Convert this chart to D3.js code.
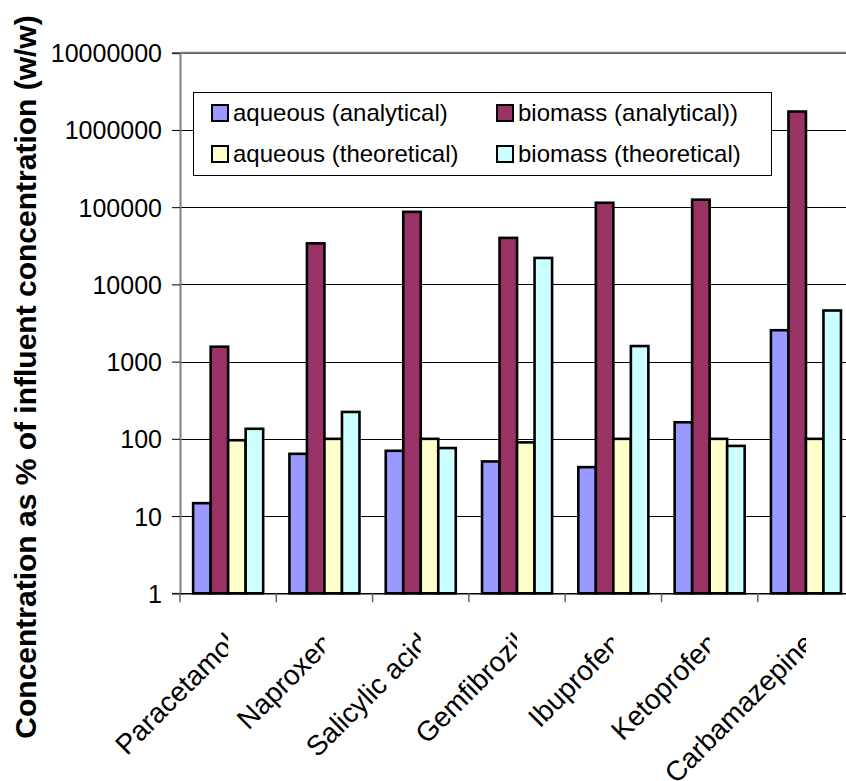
<!DOCTYPE html>
<html>
<head>
<meta charset="utf-8">
<script src="https://cdn.jsdelivr.net/npm/d3@7"></script>
<style>
  html, body { margin: 0; padding: 0; background: #fff; }
  svg { display: block; font-family: "Liberation Sans", Arial, sans-serif; }
</style>
</head>
<body>
<svg id="chart" width="846" height="781"></svg>
<script>
// Compounds along the x axis
const categories = ["Paracetamol", "Naproxen", "Salicylic acid", "Gemfibrozil", "Ibuprofen", "Ketoprofen", "Carbamazepine"];

// Concentration as % of influent concentration (w/w)
const aqueousAnalytical   = [14.7, 64, 70, 51, 43, 164, 2550];
const biomassAnalytical   = [1560, 34000, 87000, 40000, 114000, 125000, 1730000];
const aqueousTheoretical  = [96, 100, 100, 90, 100, 100, 100];
const biomassTheoretical  = [135, 223, 76, 22000, 1590, 81, 4590];

const seriesNames  = ["aqueous (analytical)", "biomass (analytical))", "aqueous (theoretical)", "biomass (theoretical)"];
const seriesColors = ["#9999FF", "#993366", "#FFFFCC", "#CCFFFF"];
const seriesValues = [aqueousAnalytical, biomassAnalytical, aqueousTheoretical, biomassTheoretical];

const yTicks = [1, 10, 100, 1000, 10000, 100000, 1000000, 10000000];
const yTitle = "Concentration as % of influent concentration (w/w)";

const svg = d3.select("#chart");

const plot = { left: 180, top: 52.7, bottom: 593.3, catW: 96.3 };
plot.right = plot.left + plot.catW * categories.length;

const x = d3.scaleBand().domain(categories).range([plot.left, plot.right]).padding(0);
const xs = d3.scaleBand().domain(d3.range(seriesNames.length))
  .range([0, x.bandwidth()]).paddingInner(0).paddingOuter(0.75);
const y = d3.scaleLog().domain([1, 1e7]).range([plot.bottom, plot.top]);

// Horizontal gridlines
svg.append("g")
  .selectAll("line")
  .data(yTicks.slice(1))
  .join("line")
  .attr("x1", plot.left).attr("x2", plot.right)
  .attr("y1", d => Math.round(y(d)) + 0.5).attr("y2", d => Math.round(y(d)) + 0.5)
  .attr("stroke", "#000").attr("stroke-width", 1);

// Plot area border (top) in grey
svg.append("line")
  .attr("x1", plot.left).attr("x2", plot.right)
  .attr("y1", plot.top).attr("y2", plot.top)
  .attr("stroke", "#808080").attr("stroke-width", 2);

// Bars
const rows = categories.map((c, i) => ({ cat: c, vals: seriesValues.map(s => s[i]) }));
svg.append("g")
  .selectAll("g")
  .data(rows)
  .join("g")
  .attr("transform", d => `translate(${x(d.cat)},0)`)
  .selectAll("rect")
  .data(d => d.vals.map((v, k) => ({ v, k })))
  .join("rect")
  .attr("x", d => xs(d.k))
  .attr("width", xs.bandwidth())
  .attr("y", d => y(d.v))
  .attr("height", d => plot.bottom - y(d.v))
  .attr("fill", d => seriesColors[d.k])
  .attr("stroke", "#000")
  .attr("stroke-width", 2.6);

// Y axis
const yAxis = d3.axisLeft(y).tickValues(yTicks).tickSize(8).tickPadding(10)
  .tickFormat(d3.format("d"));
const gy = svg.append("g").attr("transform", `translate(${plot.left},0)`).call(yAxis);
gy.select(".domain").attr("stroke", "#808080").attr("stroke-width", 2);
gy.selectAll(".tick line").attr("stroke", "#000").attr("stroke-width", 1);
gy.selectAll(".tick text")
  .attr("font-family", "Liberation Sans, Arial, sans-serif")
  .attr("font-size", 25).attr("fill", "#000")
  .attr("dy", null).attr("y", 9);

// X axis
const xAxis = d3.axisBottom(x).tickSize(0).tickFormat("");
const gx = svg.append("g").attr("transform", `translate(0,${plot.bottom})`).call(xAxis);
gx.select(".domain").attr("stroke", "#000").attr("stroke-width", 1.5);
// category boundary tick marks
svg.append("g")
  .selectAll("line")
  .data(d3.range(categories.length + 1))
  .join("line")
  .attr("x1", i => plot.left + i * x.step()).attr("x2", i => plot.left + i * x.step())
  .attr("y1", plot.bottom).attr("y2", plot.bottom + 9)
  .attr("stroke", "#666").attr("stroke-width", 1.5);

// Rotated category labels, each clipped at its category centre
const defs = svg.append("defs");
categories.forEach((c, i) => {
  defs.append("clipPath").attr("id", "lab" + i)
    .append("rect")
    .attr("x", 0).attr("y", 0)
    .attr("width", x(c) + x.bandwidth() / 2).attr("height", 781);
});
svg.append("g")
  .selectAll("g")
  .data(categories)
  .join("g")
  .attr("clip-path", (d, i) => `url(#lab${i})`)
  .append("text")
  .attr("transform", d => `translate(${x(d) + x.bandwidth() / 2 + 10},645) rotate(-45)`)
  .attr("text-anchor", "end")
  .attr("font-size", 28)
  .attr("fill", "#000")
  .text(d => d);

// Y axis title
svg.append("text")
  .attr("transform", "translate(36,377) rotate(-90)")
  .attr("text-anchor", "middle")
  .attr("font-size", 30)
  .attr("font-weight", "bold")
  .attr("fill", "#000")
  .text(yTitle);

// Legend
const legend = svg.append("g");
legend.append("rect")
  .attr("x", 193.5).attr("y", 92.5).attr("width", 578).attr("height", 83)
  .attr("fill", "#fff").attr("stroke", "#000").attr("stroke-width", 1);
const legCols = [212, 497];
const legRows = [113, 154];
// row 1: analytical series, row 2: theoretical series
const legPos = [[0, 0], [1, 0], [0, 1], [1, 1]];
seriesNames.forEach((name, k) => {
  const [c, r] = legPos[k];
  const gx0 = legCols[c], cy = legRows[r];
  legend.append("rect")
    .attr("x", gx0).attr("y", cy - 8).attr("width", 16).attr("height", 16)
    .attr("fill", seriesColors[k]).attr("stroke", "#000").attr("stroke-width", 2);
  legend.append("text")
    .attr("x", gx0 + 21).attr("y", cy + 7.5)
    .attr("font-size", 24).attr("fill", "#000")
    .text(name);
});
</script>
</body>
</html>
